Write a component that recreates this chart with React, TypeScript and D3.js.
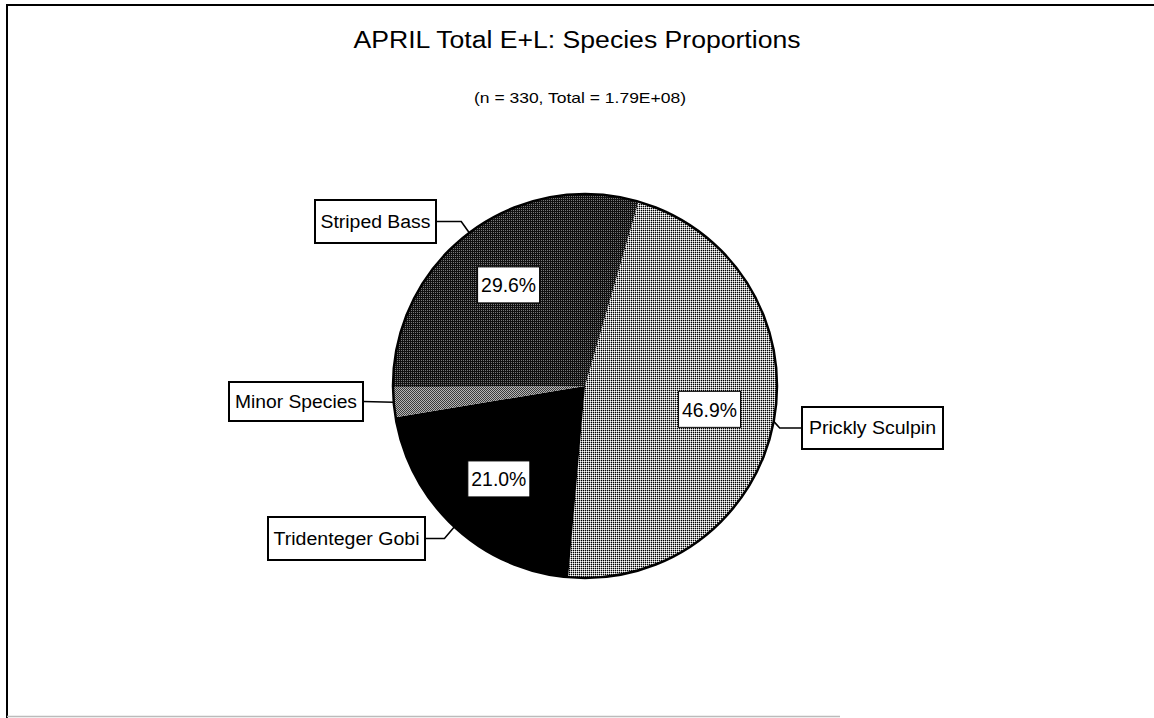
import React from "react";
import * as d3 from "d3";

// ---- data ----
const categories = ["Prickly Sculpin", "Tridenteger Gobi", "Minor Species", "Striped Bass"];
const percents = [46.9, 21.0, 2.5, 29.6];
const percentLabels = ["46.9%", "21.0%", "", "29.6%"];
const titleText = "APRIL Total E+L: Species Proportions";
const subtitleText = "(n = 330, Total = 1.79E+08)";

// ---- layout / style ----
const W = 1154;
const H = 718;
const CX = 585;
const CY = 386;
const R = 192;
const START = (16.2 * Math.PI) / 180;
const fills = ["url(#pPrickly)", "#000", "url(#pMinor)", "url(#pBass)"];
const boxes: Record<string, { x: number; y: number; w: number; h: number; tl: number; side: "left" | "right"; elbow: number }> = {
  "Prickly Sculpin": { x: 802, y: 407, w: 141, h: 42, tl: 127, side: "left", elbow: 6 },
  "Tridenteger Gobi": { x: 268, y: 517, w: 157, h: 43, tl: 146, side: "right", elbow: 10 },
  "Minor Species": { x: 229, y: 382, w: 134, h: 39, tl: 122, side: "right", elbow: 0 },
  "Striped Bass": { x: 315, y: 200, w: 121, h: 43, tl: 110, side: "right", elbow: 8 },
};
const FONT = "'Liberation Sans', Arial, Helvetica, sans-serif";

export default function App() {
  const pie = d3
    .pie<number>()
    .sort(null)
    .value((d) => d)
    .startAngle(START)
    .endAngle(START + 2 * Math.PI);
  const arcs = pie(percents);
  const arc = d3.arc<d3.PieArcDatum<number>>().innerRadius(0).outerRadius(R);
  const edgeArc = d3.arc<d3.PieArcDatum<number>>().innerRadius(R).outerRadius(R);
  const labelArc = d3.arc<d3.PieArcDatum<number>>().innerRadius(R * 0.66).outerRadius(R * 0.66);

  return (
    <svg
      width={W}
      height={H}
      style={{ position: "absolute", left: 0, top: 0, background: "#fff" }}
      fontFamily={FONT}
    >
      <defs>
        <pattern id="pPrickly" width={2} height={2} patternUnits="userSpaceOnUse">
          <rect width={2} height={2} fill="#a6a6a6" />
          <rect x={0} y={0} width={1} height={1} fill="#000" />
          <rect x={1} y={1} width={1} height={1} fill="#fff" />
        </pattern>
        <pattern id="pBass" width={2} height={2} patternUnits="userSpaceOnUse">
          <rect width={2} height={2} fill="#111" />
          <rect x={0} y={0} width={1} height={1} fill="#7a7a7a" />
        </pattern>
        <pattern id="pMinor" width={2} height={2} patternUnits="userSpaceOnUse">
          <rect width={2} height={2} fill="#3a3a3a" />
          <rect x={0} y={0} width={1} height={1} fill="#b5b5b5" />
          <rect x={1} y={1} width={1} height={1} fill="#b5b5b5" />
        </pattern>
      </defs>

      {/* frame */}
      <line x1={6} y1={5} x2={W} y2={5} stroke="#000" strokeWidth={2} />
      <line x1={7} y1={4} x2={7} y2={H} stroke="#000" strokeWidth={2} />
      <line x1={7} y1={716.5} x2={840} y2={716.5} stroke="#bbb" strokeWidth={1.5} />

      {/* titles */}
      <text x={577} y={48} textAnchor="middle" fontSize={23} textLength={447} lengthAdjust="spacingAndGlyphs" fill="#000">
        {titleText}
      </text>
      <text x={580} y={103} textAnchor="middle" fontSize={15} textLength={212} lengthAdjust="spacingAndGlyphs" fill="#000">
        {subtitleText}
      </text>

      <g transform={`translate(${CX},${CY})`}>
        {arcs.map((a, i) => (
          <path key={categories[i]} d={arc(a) || ""} fill={fills[i]} stroke="none" />
        ))}
        <circle r={R} fill="none" stroke="#000" strokeWidth={2.5} />
      </g>

      {/* callout labels */}
      {arcs.map((a, i) => {
        const b = boxes[categories[i]];
        const [ex, ey] = edgeArc.centroid(a);
        const px = CX + ex;
        const py = CY + ey;
        const my = b.y + b.h / 2;
        const attachX = b.side === "right" ? b.x + b.w : b.x;
        const elbowX = b.side === "right" ? px - b.elbow : px + b.elbow;
        const pts = b.elbow > 0 ? `${px},${py} ${elbowX},${my} ${attachX},${my}` : `${px},${py} ${attachX},${my}`;
        return (
          <g key={"lab" + i}>
            <polyline points={pts} fill="none" stroke="#000" strokeWidth={1.6} />
            <rect x={b.x} y={b.y} width={b.w} height={b.h} fill="#fff" stroke="#000" strokeWidth={2} />
            <text
              x={b.x + b.w / 2}
              y={my + 6}
              textAnchor="middle"
              fontSize={18}
              textLength={b.tl}
              lengthAdjust="spacingAndGlyphs"
              fill="#000"
            >
              {categories[i]}
            </text>
          </g>
        );
      })}

      {/* percent labels */}
      {arcs.map((a, i) => {
        if (!percentLabels[i]) return null;
        const [lx, ly] = labelArc.centroid(a);
        const x = CX + lx;
        const y = CY + ly;
        return (
          <g key={"pct" + i}>
            <rect x={x - 31} y={y - 18} width={62} height={36} fill="#fff" stroke="#000" strokeWidth={1} />
            <text x={x} y={y + 7.5} textAnchor="middle" fontSize={21} textLength={55} lengthAdjust="spacingAndGlyphs" fill="#000">
              {percentLabels[i]}
            </text>
          </g>
        );
      })}
    </svg>
  );
}
